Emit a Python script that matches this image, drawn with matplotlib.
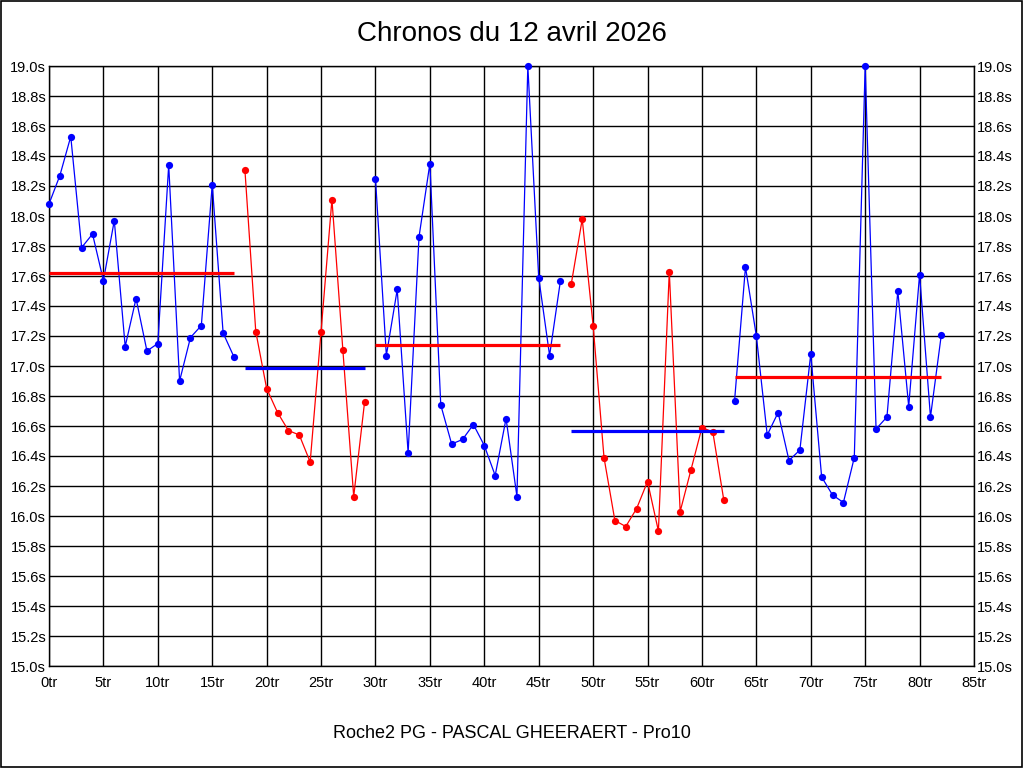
import matplotlib
matplotlib.use("Agg")
import matplotlib.pyplot as plt
from matplotlib.patches import Rectangle
from matplotlib.ticker import FuncFormatter, MultipleLocator

plt.rcParams['font.family'] = ['Liberation Sans', 'DejaVu Sans']

title = "Chronos du 12 avril 2026"
footer = "Roche2 PG - PASCAL GHEERAERT - Pro10"

# Segments (laps and times in seconds)
seg1_x = list(range(0, 18))
seg1_y = [18.08, 18.27, 18.53, 17.79, 17.88, 17.57, 17.97, 17.13, 17.45, 17.10,
          17.15, 18.34, 16.90, 17.19, 17.27, 18.21, 17.22, 17.06]
seg2_x = list(range(18, 30))
seg2_y = [18.31, 17.23, 16.85, 16.69, 16.57, 16.54, 16.36, 17.23, 18.11, 17.11,
          16.13, 16.76]
seg3_x = list(range(30, 48))
seg3_y = [18.25, 17.07, 17.51, 16.42, 17.86, 18.35, 16.74, 16.48, 16.51, 16.61,
          16.47, 16.27, 16.65, 16.13, 19.00, 17.59, 17.07, 17.57]
seg4_x = list(range(48, 63))
seg4_y = [17.55, 17.98, 17.27, 16.39, 15.97, 15.93, 16.05, 16.23, 15.90, 17.63,
          16.03, 16.31, 16.59, 16.56, 16.11]
seg5_x = list(range(63, 83))
seg5_y = [16.77, 17.66, 17.20, 16.54, 16.69, 16.37, 16.44, 17.08, 16.26, 16.14,
          16.09, 16.39, 19.00, 16.58, 16.66, 17.50, 16.73, 17.61, 16.66, 17.21]

seg_colors = ['#0000ff', '#ff0000', '#0000ff', '#ff0000', '#0000ff']
avg_colors = ['#ff0000', '#0000ff', '#ff0000', '#0000ff', '#ff0000']
averages = [17.62, 16.99, 17.14, 16.57, 16.93]

segments = [(seg1_x, seg1_y), (seg2_x, seg2_y), (seg3_x, seg3_y),
            (seg4_x, seg4_y), (seg5_x, seg5_y)]

fig = plt.figure(figsize=(10.24, 7.68), dpi=100)
fig.patch.set_facecolor('white')
fig.add_artist(Rectangle((0.0005, 0.0007), 0.998, 0.998, transform=fig.transFigure,
                         fill=False, edgecolor='black', linewidth=1.2))

ax = fig.add_axes([49/1024, 1 - 666/768, (974-49)/1024, 600/768])

for (xs, ys), c, avg, ac in zip(segments, seg_colors, averages, avg_colors):
    ax.plot(xs, ys, color=c, linewidth=0.9, marker='o', markersize=5.2,
            markeredgewidth=0, zorder=3, clip_on=False)
    ax.plot([xs[0], xs[-1]], [avg, avg], color=ac, linewidth=2.3, zorder=4,
            solid_capstyle='butt')

ax.set_xlim(0, 85)
ax.set_ylim(15.0, 19.0)
ax.xaxis.set_major_locator(MultipleLocator(5))
ax.yaxis.set_major_locator(MultipleLocator(0.2))
ax.xaxis.set_major_formatter(FuncFormatter(lambda v, p: f"{int(round(v))}tr"))
ax.yaxis.set_major_formatter(FuncFormatter(lambda v, p: f"{v:.1f}s"))
ax.grid(True, color='black', linewidth=1.0)
ax.set_axisbelow(True)
for s in ax.spines.values():
    s.set_color('black')
    s.set_linewidth(1.0)
ax.tick_params(axis='both', length=0, labelsize=10.5, colors='black')
ax.tick_params(axis='y', left=True, labelright=True, right=True)
ax.tick_params(axis='y', which='both', pad=2)
ax.yaxis.set_tick_params(which='major', pad=2)
for lbl in ax.get_yticklabels(which='major'):
    pass
ax.tick_params(axis='x', pad=7)

fig.canvas.draw()
# right-side labels slightly farther from the axis
for t in ax.yaxis.get_major_ticks():
    t.label2.set_x(1.0)
ax.yaxis.set_tick_params(pad=2)

fig.text(0.5, 1 - 34/768, title, ha='center', va='center', fontsize=20)
fig.text(0.5, 1 - 733/768, footer, ha='center', va='center', fontsize=13)

fig.savefig("out.png", dpi=100)
